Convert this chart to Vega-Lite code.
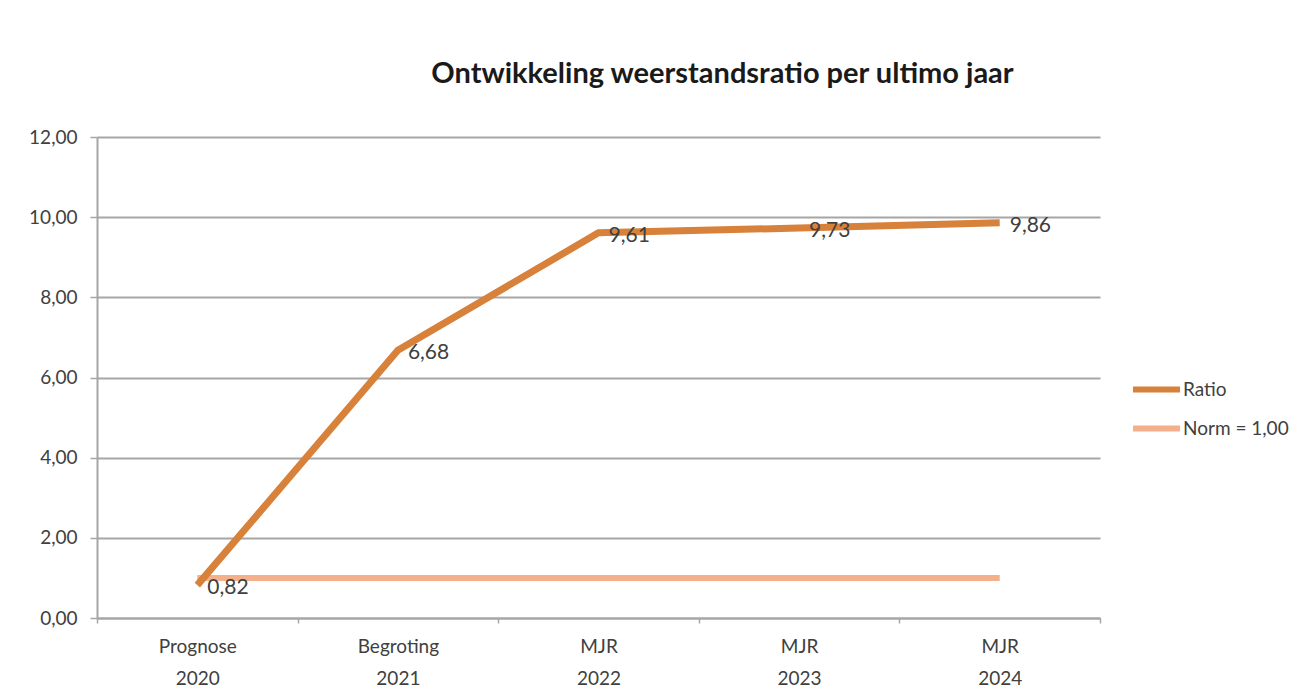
{
  "$schema": "https://vega.github.io/schema/vega-lite/v6.json",
  "width": 1003,
  "height": 481,
  "autosize": {"type": "none"},
  "padding": {"left": 97, "top": 137, "right": 208, "bottom": 77},
  "background": "white",
  "title": {
    "text": "Ontwikkeling weerstandsratio per ultimo jaar",
    "anchor": "middle",
    "dx": 124,
    "offset": 39,
    "font": "Lato",
    "fontSize": 29,
    "fontWeight": "bold",
    "color": "#1a1a1a"
  },
  "datasets": {
    "ratio": [
      {"periode": "Prognose 2020", "reeks": "Ratio", "waarde": 0.82},
      {"periode": "Begroting 2021", "reeks": "Ratio", "waarde": 6.68},
      {"periode": "MJR 2022", "reeks": "Ratio", "waarde": 9.61},
      {"periode": "MJR 2023", "reeks": "Ratio", "waarde": 9.73},
      {"periode": "MJR 2024", "reeks": "Ratio", "waarde": 9.86}
    ],
    "norm": [
      {"periode": "Prognose 2020", "reeks": "Norm = 1,00", "waarde": 1.0},
      {"periode": "Begroting 2021", "reeks": "Norm = 1,00", "waarde": 1.0},
      {"periode": "MJR 2022", "reeks": "Norm = 1,00", "waarde": 1.0},
      {"periode": "MJR 2023", "reeks": "Norm = 1,00", "waarde": 1.0},
      {"periode": "MJR 2024", "reeks": "Norm = 1,00", "waarde": 1.0}
    ]
  },
  "encoding": {
    "x": {
      "field": "periode",
      "type": "nominal",
      "sort": null,
      "scale": {"type": "band", "paddingInner": 0, "paddingOuter": 0},
      "axis": {
        "title": null,
        "labelAngle": 0,
        "labelExpr": "split(datum.label, ' ')",
        "labelFont": "Lato",
        "labelFontSize": 19,
        "labelColor": "#404040",
        "labelLineHeight": 32,
        "labelPadding": 14,
        "tickBand": "extent",
        "tickSize": 5,
        "tickColor": "#a6a6a6",
        "tickWidth": 1.5,
        "domainColor": "#a6a6a6",
        "domainWidth": 2,
        "grid": false
      }
    },
    "y": {
      "field": "waarde",
      "type": "quantitative",
      "scale": {"domain": [0, 12]},
      "axis": {
        "title": null,
        "values": [0, 2, 4, 6, 8, 10, 12],
        "format": ".2f",
        "labelFont": "Lato",
        "labelFontSize": 19,
        "labelColor": "#404040",
        "labelPadding": 13,
        "tickSize": 7,
        "tickColor": "#a6a6a6",
        "tickWidth": 1.5,
        "domainColor": "#a6a6a6",
        "domainWidth": 2,
        "grid": true,
        "gridColor": "#a6a6a6",
        "gridWidth": 2
      }
    }
  },
  "layer": [
    {
      "data": {"name": "norm"},
      "mark": {"type": "line", "strokeWidth": 6, "strokeCap": "butt"},
      "encoding": {
        "color": {
          "field": "reeks",
          "type": "nominal",
          "scale": {"domain": ["Ratio", "Norm = 1,00"], "range": ["#D7813A", "#F4B08A"]},
          "legend": {
            "title": null,
            "orient": "none",
            "legendX": 1033,
            "legendY": 226,
            "symbolType": "stroke",
            "symbolSize": 2209,
            "symbolStrokeWidth": 6,
            "labelFont": "Lato",
            "labelFontSize": 19,
            "labelColor": "#404040",
            "labelOffset": 0,
            "rowPadding": -6
          }
        }
      }
    },
    {
      "data": {"name": "ratio"},
      "mark": {"type": "line", "strokeWidth": 7, "strokeCap": "butt", "strokeJoin": "miter"},
      "encoding": {
        "color": {"field": "reeks", "type": "nominal"}
      }
    },
    {
      "data": {"name": "ratio"},
      "mark": {"type": "text", "align": "left", "baseline": "middle", "dx": 10, "dy": 3, "font": "Lato", "fontSize": 21, "color": "#404040"},
      "encoding": {
        "text": {"field": "waarde", "type": "quantitative", "format": ".2f"}
      }
    }
  ],
  "config": {
    "locale": {
      "number": {"decimal": ",", "thousands": ".", "grouping": [3], "currency": ["€", ""]}
    },
    "view": {"stroke": null}
  }
}
